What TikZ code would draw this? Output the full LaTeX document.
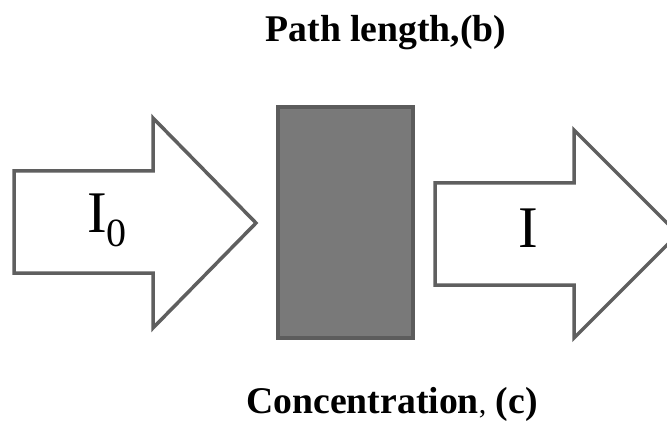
\documentclass[tikz,border=0pt]{standalone}
\usepackage{fontspec}
\setmainfont{Liberation Serif}
\begin{document}
\begin{tikzpicture}[x=1pt,y=1pt,
  arrowshape/.style={draw=arrowgray,line width=3.5pt,fill=white,line join=miter},
  lbl/.style={inner sep=0pt,anchor=base,font=\fontsize{37.7}{40}\selectfont\bfseries},
  big/.style={inner sep=0pt,anchor=base,font=\fontsize{59}{60}\selectfont}]
\definecolor{arrowgray}{HTML}{5F5F5F}
\definecolor{cellfill}{HTML}{797979}
\definecolor{cellborder}{HTML}{5C5C5C}
\useasboundingbox (0,0) rectangle (667,421);
\clip (0,0) rectangle (667,421);
% left arrow (I0)
\draw[arrowshape] (14,250) -- (153,250) -- (153,303) -- (256,198) -- (153,93) -- (153,148) -- (14,148) -- cycle;
% right arrow (I)
\draw[arrowshape] (435,238) -- (574,238) -- (574,291) -- (678,187) -- (574,83) -- (574,136) -- (435,136) -- cycle;
% sample cell
\draw[fill=cellfill,draw=cellborder,line width=4pt] (278,314) rectangle (413,83);
\node[lbl] (top) at (386,379) {Path length,(b)};
\node[lbl] (bottom) at (392,8) {Concentration{\mdseries\fontsize{30}{32}\selectfont,} (c)};
\node[big] (i0) at (107,188) {I\raisebox{-13pt}{\fontsize{40}{40}\selectfont 0}};
\node[big] (i) at (528,174) {I};
\end{tikzpicture}
\end{document}
